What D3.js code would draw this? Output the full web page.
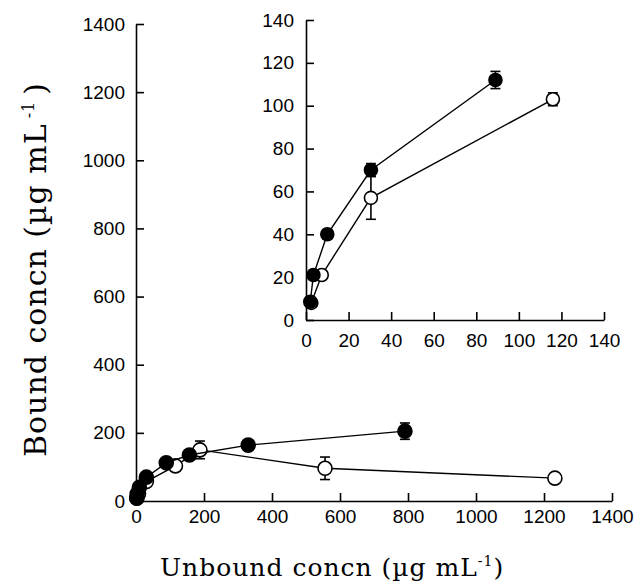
<!DOCTYPE html>
<html>
<head>
<meta charset="utf-8">
<script src="https://cdn.jsdelivr.net/npm/d3@7"></script>
<style>
  body { margin: 0; background: #fff; }
  svg { display: block; }
</style>
</head>
<body>
<div id="chart"></div>
<script>
// filled circles
const filledUnbound = [2, 3.5, 10, 30.5, 89, 157, 330, 791];
const filledBound = [8.5, 21, 40, 70, 112, 135, 164, 205];
const filledErr = [1, 1, 2, 3, 4, 5, 5, 24];
// open circles
const openUnbound = [2.5, 7.4, 30.5, 116, 188, 556, 1232];
const openBound = [8, 21, 57, 103, 150, 96, 67];
const openErr = [1, 1, 10, 3, 26, 33, 3];

const mainTicks = [0, 200, 400, 600, 800, 1000, 1200, 1400];
const insetTicks = [0, 20, 40, 60, 80, 100, 120, 140];

document.addEventListener("DOMContentLoaded", function () {

    let width = 639, height = 588;

    let svg = d3.select("#chart")
        .append("svg")
        .attr("width", width)
        .attr("height", height);

    function zip(xs, ys, es) {
        return xs.map((x, i) => ({ x: x, y: ys[i], e: es[i] }));
    }
    let filled = zip(filledUnbound, filledBound, filledErr);
    let open = zip(openUnbound, openBound, openErr);

    function drawPanel(opts) {
        let x = d3.scaleLinear().domain(opts.domain).range(opts.xRange);
        let y = d3.scaleLinear().domain(opts.domain).range(opts.yRange);
        let g = svg.append("g");

        let xAxis = g.append("g")
            .attr("transform", "translate(0," + opts.yRange[0] + ")")
            .call(d3.axisBottom(x).tickValues(opts.ticks).tickFormat(d3.format("d"))
                .tickSizeInner(-8).tickSizeOuter(0).tickPadding(opts.xPad));
        let yAxis = g.append("g")
            .attr("transform", "translate(" + opts.xRange[0] + ",0)")
            .call(d3.axisLeft(y).tickValues(opts.ticks).tickFormat(d3.format("d"))
                .tickSizeInner(-8).tickSizeOuter(0).tickPadding(opts.yPad));

        [xAxis, yAxis].forEach(function (a) {
            a.selectAll("path, line").attr("stroke", "#000").attr("stroke-width", 1.6);
            a.selectAll("text")
                .attr("fill", "#000")
                .style("font-family", "'Liberation Sans', Arial, sans-serif")
                .style("font-size", "19px");
        });

        let line = d3.line().x(d => x(d.x)).y(d => y(d.y));

        [open, filled].forEach(function (series, k) {
            let pts = series.filter(d => d.x <= opts.domain[1]);
            g.append("path")
                .datum(pts)
                .attr("d", line)
                .attr("fill", "none")
                .attr("stroke", "#000")
                .attr("stroke-width", 1.4);

            let eb = g.selectAll(null).data(pts.filter(d => d.e > 0)).enter().append("g");
            eb.append("line")
                .attr("x1", d => x(d.x)).attr("x2", d => x(d.x))
                .attr("y1", d => y(d.y - d.e)).attr("y2", d => y(d.y + d.e));
            eb.append("line")
                .attr("x1", d => x(d.x) - 5).attr("x2", d => x(d.x) + 5)
                .attr("y1", d => y(d.y - d.e)).attr("y2", d => y(d.y - d.e));
            eb.append("line")
                .attr("x1", d => x(d.x) - 5).attr("x2", d => x(d.x) + 5)
                .attr("y1", d => y(d.y + d.e)).attr("y2", d => y(d.y + d.e));
            eb.selectAll("line").attr("stroke", "#000").attr("stroke-width", 1.6);

            g.selectAll(null).data(pts).enter().append("circle")
                .attr("cx", d => x(d.x))
                .attr("cy", d => y(d.y))
                .attr("r", opts.r)
                .attr("fill", k === 0 ? "#fff" : "#000")
                .attr("stroke", "#000")
                .attr("stroke-width", 1.6);
        });
    }

    // main plot
    drawPanel({
        domain: [0, 1400], xRange: [136, 612], yRange: [501, 24],
        ticks: mainTicks, xPad: 9, yPad: 11, r: 7
    });

    // inset
    drawPanel({
        domain: [0, 140], xRange: [306, 604], yRange: [320, 20],
        ticks: insetTicks, xPad: 14, yPad: 12, r: 6.5
    });

    // axis titles
    let serif = "'DejaVu Serif', 'Liberation Serif', serif";
    let xt = svg.append("text")
        .attr("x", 160).attr("y", 576)
        .style("font-family", serif).style("font-size", "25px")
        .style("letter-spacing", "1px")
        .attr("fill", "#000");
    xt.append("tspan").text("Unbound concn (µg mL");
    xt.append("tspan").attr("dy", -10).style("font-size", "14px").text("-1");
    xt.append("tspan").attr("dy", 10).text(")");

    let yt = svg.append("text")
        .attr("transform", "translate(46,457) rotate(-90)")
        .style("font-family", serif).style("font-size", "30px")
        .style("letter-spacing", "1px")
        .attr("fill", "#000");
    yt.append("tspan").text("Bound concn (µg mL");
    yt.append("tspan").attr("dy", -12).attr("dx", 5).style("font-size", "16px").text("-1");
    yt.append("tspan").attr("dy", 12).attr("dx", 6).text(")");
});
</script>
</body>
</html>
